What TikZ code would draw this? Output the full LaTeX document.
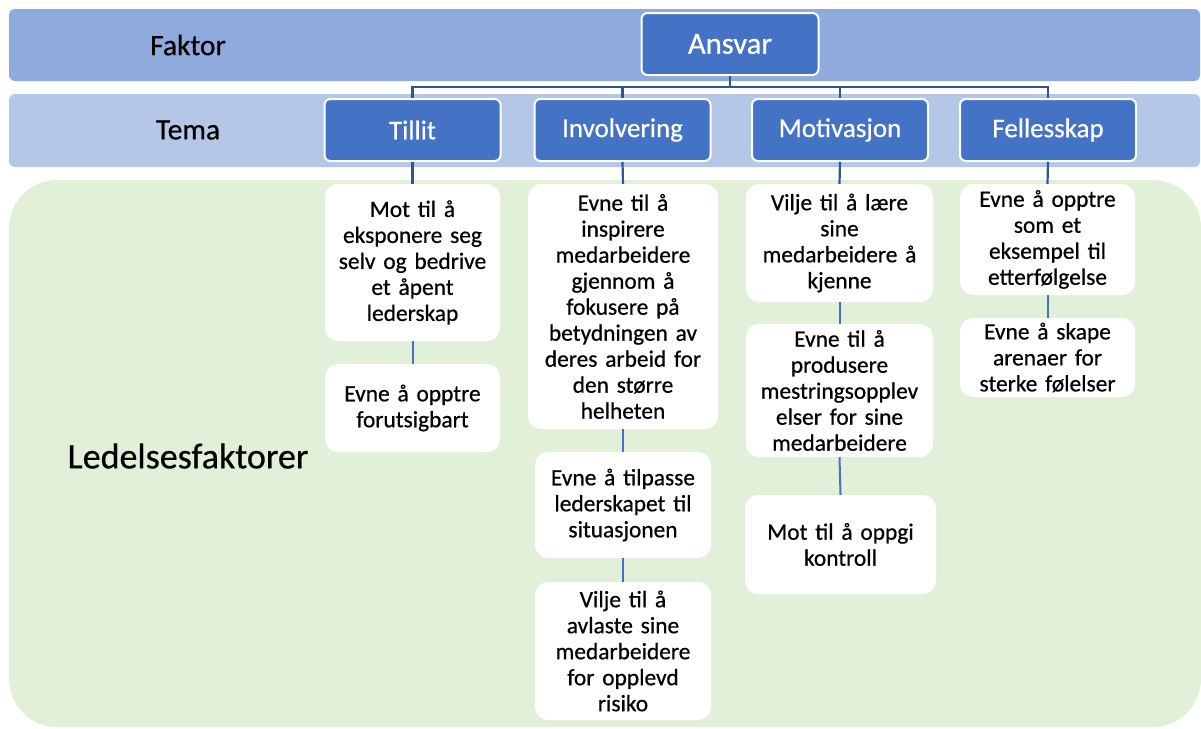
\documentclass[tikz,border=0pt]{standalone}
\usepackage{fontspec}
\setmainfont{Carlito}[FakeBold=0.6, WordSpace=0.8]
\definecolor{bandA}{HTML}{8FAADC}
\definecolor{bandB}{HTML}{B4C7E7}
\definecolor{greenbg}{HTML}{E2F0D9}
\definecolor{boxblue}{HTML}{4472C4}
\definecolor{linedark}{HTML}{2F5597}
\tikzset{
  bluebox/.style={rectangle, rounded corners=6pt, fill=boxblue, draw=white, line width=2pt,
    text=white, font=\fontsize{27}{30}\selectfont, inner sep=0pt, minimum width=176pt, minimum height=62pt},
  whitebox/.style={rectangle, rounded corners=13pt, fill=white, inner sep=0pt, align=center,
    font=\fontsize{23.4}{26}\selectfont},
  toplink/.style={draw=linedark, line width=2.2pt},
  sublink/.style={draw=boxblue, line width=2pt},
  rowlabel/.style={font=\fontsize{29.5}{32}\selectfont, inner sep=0pt}
}
\begin{document}
\begin{tikzpicture}[x=1pt,y=-1pt]
\useasboundingbox (0,0) rectangle (1201,728);
% bands
\fill[bandA, rounded corners=6pt] (9,9) rectangle (1200,81);
\fill[bandB, rounded corners=6pt] (9,94) rectangle (1200,167);
\fill[greenbg, rounded corners=48pt] (9,180) rectangle (1201,727);
% row labels
\node[rowlabel] (lfaktor) at (188,45) {Faktor};
\node[rowlabel] (ltema) at (188,130) {Tema};
\node[font=\fontsize{36}{40}\selectfont, inner sep=0pt] (lled) at (188,456) {Ledelsesfaktorer};
% top nodes
\node[bluebox, font=\fontsize{30.6}{33}\selectfont, minimum width=177pt] (ansvar) at (730,44) {Ansvar};
\node[bluebox] (tillit) at (412.5,130) {Tillit};
\node[bluebox] (invol) at (622.5,130) {Involvering};
\node[bluebox] (motiv) at (840,130) {Motivasjon};
\node[bluebox] (felles) at (1048,130) {Fellesskap};
% Tillit column
\node[whitebox, minimum width=175pt, minimum height=157pt, text width=170pt] (t1) at (412.5,262.5)
  {Mot til å\\eksponere seg\\selv og bedrive\\et åpent\\lederskap};
\node[whitebox, minimum width=175pt, minimum height=88pt, text width=170pt] (t2) at (412.5,408)
  {Evne å opptre\\forutsigbart};
% Involvering column
\node[whitebox, minimum width=190pt, minimum height=245pt, text width=185pt] (i1) at (623,306.5)
  {Evne til å\\inspirere\\medarbeidere\\gjennom å\\fokusere på\\betydningen av\\deres arbeid for\\den større\\helheten};
\node[whitebox, minimum width=176pt, minimum height=106pt, text width=171pt] (i2) at (623,505)
  {Evne å tilpasse\\lederskapet til\\situasjonen};
\node[whitebox, minimum width=176pt, minimum height=138pt, text width=171pt] (i3) at (623,651)
  {Vilje til å\\avlaste sine\\medarbeidere\\for opplevd\\risiko};
% Motivasjon column
\node[whitebox, minimum width=187pt, minimum height=118pt, text width=182pt] (m1) at (839.5,243)
  {Vilje til å lære\\sine\\medarbeidere å\\kjenne};
\node[whitebox, minimum width=187pt, minimum height=133pt, text width=182pt] (m2) at (839.5,390.5)
  {Evne til å\\produsere\\mestringsopplev\\elser for sine\\medarbeidere};
\node[whitebox, minimum width=191pt, minimum height=99pt, text width=186pt] (m3) at (840.5,544.5)
  {Mot til å oppgi\\kontroll};
% Fellesskap column
\node[whitebox, minimum width=175pt, minimum height=111pt, text width=170pt] (f1) at (1047.5,239.5)
  {Evne å opptre\\som et\\eksempel til\\etterfølgelse};
\node[whitebox, minimum width=175pt, minimum height=79pt, text width=170pt] (f2) at (1047.5,357.5)
  {Evne å skape\\arenaer for\\sterke følelser};
% connectors
\coordinate (bus) at (730,87);
\draw[toplink] (ansvar.south) -- (bus);
\draw[toplink] (bus) -| (tillit.north);
\draw[toplink] (bus) -| (invol.north);
\draw[toplink] (bus) -| (motiv.north);
\draw[toplink] (bus) -| (felles.north);
\draw[toplink] (tillit.south) -- (t1.north);
\draw[toplink] (invol.south) -- (i1.north);
\draw[toplink] (motiv.south) -- (m1.north);
\draw[toplink] (felles.south) -- (f1.north);
\draw[sublink] (t1.south) -- (t2.north);
\draw[sublink] (i1.south) -- (i2.north);
\draw[sublink] (i2.south) -- (i3.north);
\draw[sublink] (m1.south) -- (m2.north);
\draw[sublink] (m2.south) -- (m3.north);
\draw[sublink] (f1.south) -- (f2.north);
\end{tikzpicture}
\end{document}
